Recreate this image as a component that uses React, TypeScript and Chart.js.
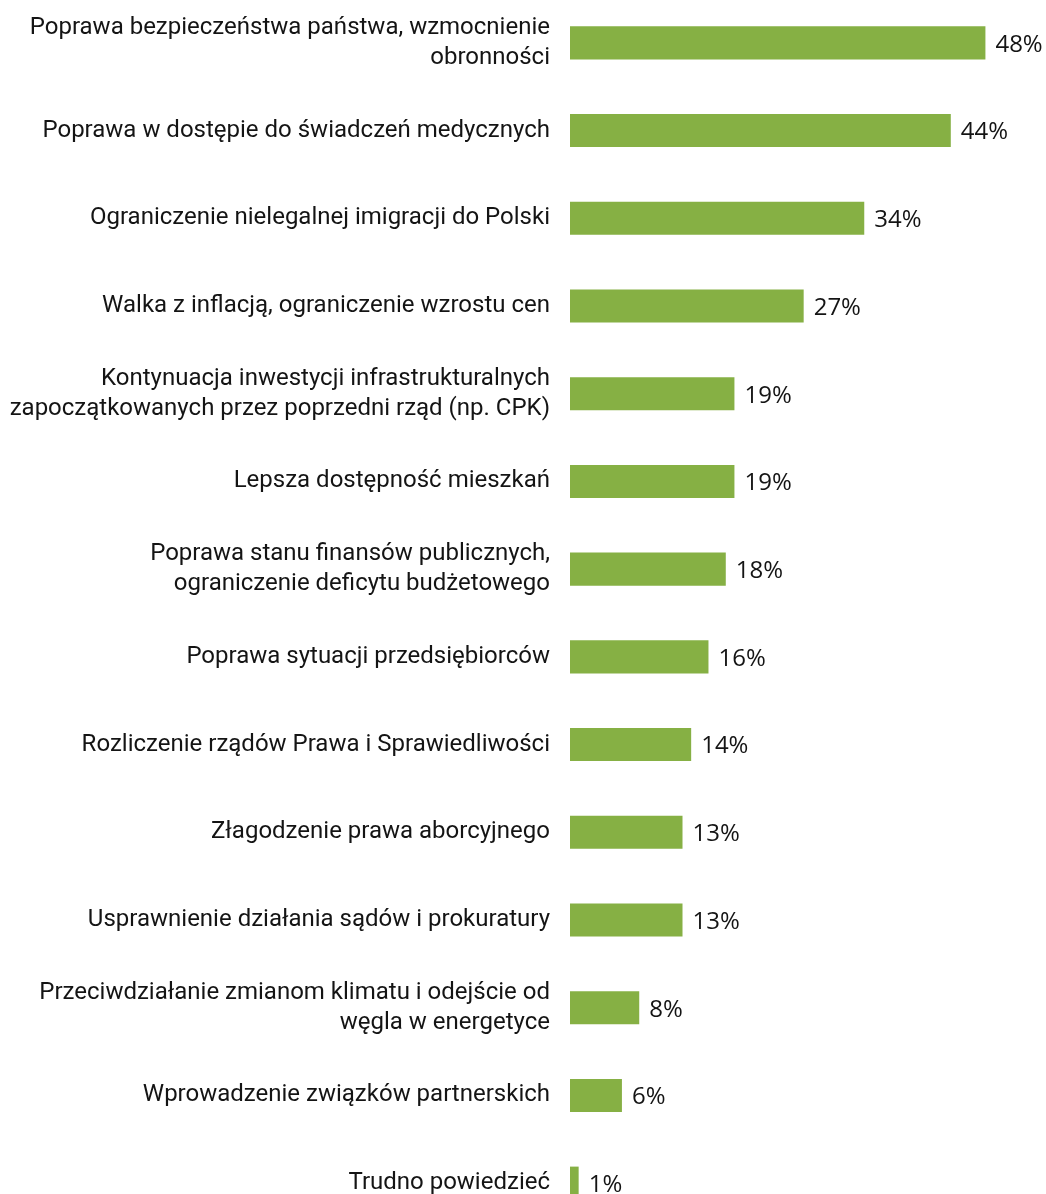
import React, { useEffect, useRef } from "react";
import { Chart, registerables } from "chart.js";

Chart.register(...registerables);

const categories: string[][] = [
  ["Poprawa bezpieczeństwa państwa, wzmocnienie", "obronności"],
  ["Poprawa w dostępie do świadczeń medycznych"],
  ["Ograniczenie nielegalnej imigracji do Polski"],
  ["Walka z inflacją, ograniczenie wzrostu cen"],
  ["Kontynuacja inwestycji infrastrukturalnych", "zapoczątkowanych przez poprzedni rząd (np. CPK)"],
  ["Lepsza dostępność mieszkań"],
  ["Poprawa stanu finansów publicznych,", "ograniczenie deficytu budżetowego"],
  ["Poprawa sytuacji przedsiębiorców"],
  ["Rozliczenie rządów Prawa i Sprawiedliwości"],
  ["Złagodzenie prawa aborcyjnego"],
  ["Usprawnienie działania sądów i prokuratury"],
  ["Przeciwdziałanie zmianom klimatu i odejście od", "węgla w energetyce"],
  ["Wprowadzenie związków partnerskich"],
  ["Trudno powiedzieć"],
];

const values: number[] = [48, 44, 34, 27, 19, 19, 18, 16, 14, 13, 13, 8, 6, 1];

const BAR_COLOR = "#86b044";
const TEXT_COLOR = "#141414";

const textPlugin = {
  id: "textPlugin",
  afterDatasetsDraw(chart: any) {
    const ctx = chart.ctx;
    const meta = chart.getDatasetMeta(0);
    const yScale = chart.scales.y;
    const left = chart.chartArea.left;
    ctx.save();
    ctx.fillStyle = TEXT_COLOR;
    ctx.textBaseline = "middle";
    // category labels
    ctx.font = "24px Roboto";
    ctx.textAlign = "right";
    const lh = 30;
    categories.forEach((lines, i) => {
      const cy = yScale.getPixelForValue(i);
      const y0 = cy - ((lines.length - 1) * lh) / 2;
      lines.forEach((ln, j) => ctx.fillText(ln, left - 20, y0 + j * lh));
    });
    // value labels
    ctx.font = "24px 'Open Sans'";
    ctx.textAlign = "left";
    meta.data.forEach((bar: any, i: number) => {
      ctx.fillText(values[i] + "%", bar.x + 10, bar.y + 2);
    });
    ctx.restore();
  },
};

export default function App() {
  const ref = useRef<HTMLCanvasElement>(null);
  useEffect(() => {
    if (!ref.current) return;
    const chart = new Chart(ref.current, {
      type: "bar",
      data: {
        labels: categories.map((c) => c.join(" ")),
        datasets: [
          {
            data: values,
            backgroundColor: BAR_COLOR,
            categoryPercentage: 1,
            barPercentage: 0.377,
          },
        ],
      },
      options: {
        indexAxis: "y",
        animation: false,
        responsive: true,
        maintainAspectRatio: false,
        layout: { padding: 0 },
        plugins: {
          legend: { display: false },
          tooltip: { enabled: false },
        },
        scales: {
          x: {
            min: 0,
            max: 55,
            display: false,
          },
          y: {
            grid: { display: false, drawTicks: false },
            border: { display: false },
            ticks: { display: false },
            afterFit(scale: any) {
              scale.width = 570;
            },
          },
        },
      },
      plugins: [textPlugin],
    });
    return () => chart.destroy();
  }, []);
  return (
    <div style={{ position: "absolute", left: 0, top: -1, width: 1046, height: 1228 }}>
      <canvas ref={ref} />
    </div>
  );
}
